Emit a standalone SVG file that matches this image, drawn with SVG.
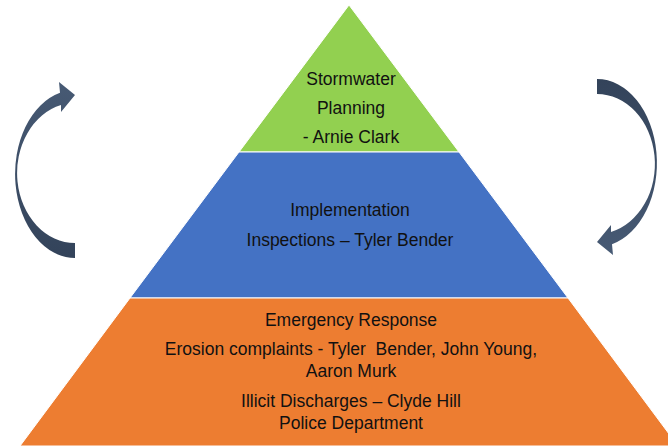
<svg xmlns="http://www.w3.org/2000/svg" width="668" height="446" viewBox="0 0 668 446">
  <style>
    .tier { stroke: #ffffff; stroke-width: 1; }
    .label { font-family: "Liberation Sans", Arial, sans-serif; font-size: 17.5px; fill: #111111; text-anchor: middle; }
    .cycle { fill: url(#arrowShade); }
  </style>
  <defs>
    <linearGradient id="arrowShade" x1="0" y1="0" x2="0" y2="1">
      <stop offset="0" stop-color="#475A74"/>
      <stop offset="1" stop-color="#33435A"/>
    </linearGradient>
    <!-- curved arrow: tail at bottom, sweeping left, head pointing right at top -->
    <path id="curvedArrow" d="M 75 258 A 60 84 0 0 1 60 92.7 L 59 82 L 75 95 L 61 112 L 61 105.1 A 58 70 0 0 0 75 243 Z"/>
  </defs>

  <!-- pyramid tiers -->
  <g id="tier-planning">
    <polygon class="tier" points="349,5 459,152 239,152" fill="#92D050"/>
    <text class="label" x="351" y="85">Stormwater</text>
    <text class="label" x="351" y="114">Planning</text>
    <text class="label" x="351" y="143">- Arnie Clark</text>
  </g>

  <g id="tier-implementation">
    <polygon class="tier" points="239,152 459,152 568,298 130,298" fill="#4472C4"/>
    <text class="label" x="350" y="216">Implementation</text>
    <text class="label" x="350" y="246">Inspections – Tyler Bender</text>
  </g>

  <g id="tier-response">
    <polygon class="tier" points="130,298 568,298 678,446 20,446" fill="#ED7D31"/>
    <text class="label" x="351" y="326">Emergency Response</text>
    <text class="label" x="351" y="355" xml:space="preserve">Erosion complaints - Tyler  Bender, John Young,</text>
    <text class="label" x="351" y="377">Aaron Murk</text>
    <text class="label" x="351" y="407">Illicit Discharges – Clyde Hill</text>
    <text class="label" x="351" y="429">Police Department</text>
  </g>

  <!-- cycle arrows on either side -->
  <g id="connectors">
    <use href="#curvedArrow" class="cycle"/>
    <use href="#curvedArrow" class="cycle" transform="rotate(180 336 168.5)"/>
  </g>
</svg>
